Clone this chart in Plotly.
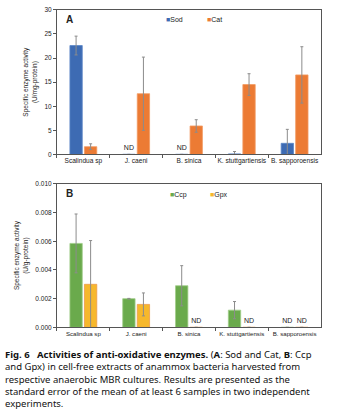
import plotly.graph_objects as go

categories = ["Scalindua sp", "J. caeni", "B. sinica", "K. stuttgartiensis", "B. sapporoensis"]

sod = [22.6, 0, 0, 0.1, 2.3]
sod_err = [1.95, 0, 0, 0.5, 2.9]
sod_txt = ["", "ND", "ND", "", ""]
cat = [1.6, 12.6, 5.9, 14.5, 16.5]
cat_err = [0.6, 7.6, 1.3, 2.25, 5.85]

ccp = [0.00585, 0.0020, 0.0029, 0.0012, 0]
ccp_err = [0.00205, 0.00002, 0.0014, 0.0006, 0]
ccp_txt = ["", "", "", "", "ND"]
gpx = [0.0030, 0.0016, 0, 0, 0]
gpx_err = [0.00305, 0.0008, 0, 0, 0]
gpx_txt = ["", "", "ND", "ND", "ND"]

FONT = "Liberation Sans, Arial, sans-serif"
ERR = dict(type="data", thickness=1, width=1.5, color="#8c8c8c")

fig = go.Figure()

def bar(y, err, txt, color, line, name, xa, ya):
    fig.add_trace(go.Bar(
        x=categories, y=y, name=name, xaxis=xa, yaxis=ya,
        marker=dict(color=color, line=dict(color=line, width=0.8)),
        error_y=dict(array=err, **ERR),
        text=txt, textposition="outside", cliponaxis=False,
        textfont=dict(family=FONT, size=7, color="#222"),
        showlegend=False,
    ))

bar(sod, sod_err, sod_txt, "#3d6bb3", "#5b86c8", "Sod", "x", "y")
bar(cat, cat_err, ["", "", "", "", ""], "#ec7b34", "#f29a62", "Cat", "x", "y")
bar(ccp, ccp_err, ccp_txt, "#6aaa4c", "#9fcd88", "Ccp", "x2", "y2")
bar(gpx, gpx_err, gpx_txt, "#f6b82c", "#ee9a4a", "Gpx", "x2", "y2")

axis_line = "#555555"
xcommon = dict(domain=[0.169, 0.9525], showline=True, linecolor=axis_line, linewidth=1,
               mirror=True, ticks="outside", tickson="boundaries", ticklen=3,
               tickcolor=axis_line, tickangle=0, automargin=False,
               showgrid=False)
ycommon = dict(showline=True, linecolor=axis_line, linewidth=1, mirror=True,
               ticks="outside", ticklen=3, tickcolor=axis_line,
               tickfont=dict(family=FONT, size=6.5, color="#222"), showgrid=False,
               zeroline=False)

fig.update_layout(
    width=337, height=410, margin=dict(l=0, r=0, t=0, b=0),
    paper_bgcolor="white", plot_bgcolor="white",
    barmode="group", bargap=0.45, bargroupgap=0.15,
    xaxis=dict(**xcommon, anchor="y", tickfont=dict(family=FONT, size=6.6, color="#222")),
    yaxis=dict(**ycommon, anchor="x", domain=[0.6268, 0.9854], range=[0, 30],
               tickvals=[0, 5, 10, 15, 20, 25, 30],
               title=dict(text="Specific enzyme activity<br>(U/mg-protein)",
                          font=dict(family=FONT, size=6.5, color="#222"), standoff=6)),
    xaxis2=dict(**xcommon, anchor="y2", tickfont=dict(family=FONT, size=6.1, color="#222")),
    yaxis2=dict(**ycommon, anchor="x2", domain=[0.1976, 0.5537], range=[0, 0.010],
                tickvals=[0, 0.002, 0.004, 0.006, 0.008, 0.010], tickformat=".3f",
                title=dict(text="Specific enzyme activity<br>(U/g-protein)",
                           font=dict(family=FONT, size=6.5, color="#222"), standoff=6)),
)

ann = []
ann.append(dict(text="<b>A</b>", x=0.19, y=0.962, xref="paper", yref="paper",
                showarrow=False, font=dict(family=FONT, size=10, color="#222"),
                xanchor="left", yanchor="middle"))
ann.append(dict(text="<b>B</b>", x=0.19, y=0.53, xref="paper", yref="paper",
                showarrow=False, font=dict(family=FONT, size=10, color="#222"),
                xanchor="left", yanchor="middle"))
legend_items = [("Sod", "#3d6bb3", 164, 16), ("Cat", "#ec7b34", 205, 16),
                ("Ccp", "#6aaa4c", 168, 194), ("Gpx", "#f6b82c", 208, 194)]
for name, col, px, py in legend_items:
    ann.append(dict(text=f"<span style='color:{col}'>■</span>{name}", x=px / 337, y=1 - py / 410,
                    xref="paper", yref="paper", showarrow=False, xanchor="left", yanchor="middle",
                    font=dict(family=FONT, size=7, color="#222")))

caption = ("<b>Fig. 6   Activities of anti-oxidative enzymes.</b> (<b>A</b>: Sod and Cat, <b>B</b>: Ccp<br>"
           "and Gpx) in cell-free extracts of anammox bacteria harvested from<br>"
           "respective anaerobic MBR cultures. Results are presented as the<br>"
           "standard error of the mean of at least 6 samples in two independent<br>"
           "experiments.")
ann.append(dict(text=caption, x=0.008, y=1 - 348 / 410, xref="paper", yref="paper",
                showarrow=False, xanchor="left", yanchor="top", align="left",
                font=dict(family="Noto Sans, sans-serif", size=9.5, color="#111")))
fig.update_layout(annotations=ann)

fig.write_html("out.html")
